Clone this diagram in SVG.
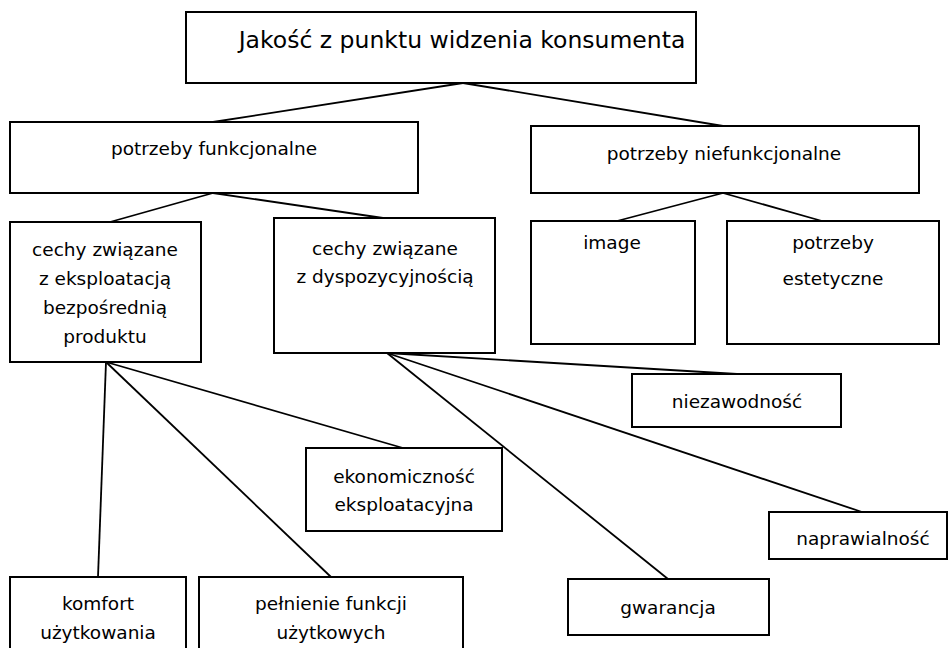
<svg xmlns="http://www.w3.org/2000/svg" width="949" height="648" viewBox="0 0 949 648">
<style>
.b{fill:#fff;stroke:#000;stroke-width:2}
.c line{stroke:#000;stroke-width:1.8}
text{font-family:"DejaVu Sans","Liberation Sans",sans-serif;font-size:18.5px;fill:#000;text-anchor:middle}
.t{font-size:23.5px}
</style>
<rect width="949" height="648" fill="#fff"/>
<g class="c">
<line x1="463" y1="83" x2="213" y2="122"/>
<line x1="463" y1="83" x2="723" y2="126"/>
<line x1="213" y1="193" x2="110" y2="222"/>
<line x1="213" y1="193" x2="383" y2="218"/>
<line x1="723" y1="193" x2="617" y2="221"/>
<line x1="723" y1="193" x2="822" y2="221"/>
<line x1="106" y1="362" x2="98" y2="577"/>
<line x1="106" y1="362" x2="331" y2="577"/>
<line x1="106" y1="362" x2="403" y2="448"/>
<line x1="387" y1="353" x2="737" y2="374"/>
<line x1="387" y1="353" x2="862" y2="512"/>
<line x1="387" y1="353" x2="668" y2="579"/>
</g>
<g id="n-top"><rect class="b" x="186" y="12" width="510" height="71"/><text class="t" x="462" y="48">Jakość z punktu widzenia konsumenta</text></g>
<g id="n-pf"><rect class="b" x="10" y="122" width="408" height="71"/><text x="214" y="155">potrzeby funkcjonalne</text></g>
<g id="n-pn"><rect class="b" x="531" y="126" width="388" height="67"/><text x="724" y="160">potrzeby niefunkcjonalne</text></g>
<g id="n-c1"><rect class="b" x="10" y="222" width="191" height="140"/><text x="105" y="256">cechy związane</text><text x="105" y="285">z eksploatacją</text><text x="105" y="314">bezpośrednią</text><text x="105" y="343">produktu</text></g>
<g id="n-c2"><rect class="b" x="274" y="218" width="221" height="135"/><text x="385" y="255">cechy związane</text><text x="385" y="283">z dyspozycyjnością</text></g>
<g id="n-img"><rect class="b" x="531" y="221" width="164" height="123"/><text x="612" y="249">image</text></g>
<g id="n-est"><rect class="b" x="727" y="221" width="212" height="123"/><text x="833" y="249">potrzeby</text><text x="833" y="285">estetyczne</text></g>
<g id="n-eko"><rect class="b" x="306" y="448" width="196" height="83"/><text x="404" y="483">ekonomiczność</text><text x="404" y="511">eksploatacyjna</text></g>
<g id="n-nie"><rect class="b" x="632" y="374" width="209" height="53"/><text x="737" y="408">niezawodność</text></g>
<g id="n-nap"><rect class="b" x="769" y="512" width="178" height="47"/><text x="863" y="545">naprawialność</text></g>
<g id="n-gw"><rect class="b" x="568" y="579" width="201" height="56"/><text x="668" y="614">gwarancja</text></g>
<g id="n-kom"><rect class="b" x="10" y="577" width="176" height="80"/><text x="98" y="610">komfort</text><text x="98" y="639">użytkowania</text></g>
<g id="n-pel"><rect class="b" x="199" y="577" width="264" height="80"/><text x="331" y="610">pełnienie funkcji</text><text x="331" y="639">użytkowych</text></g>
</svg>
